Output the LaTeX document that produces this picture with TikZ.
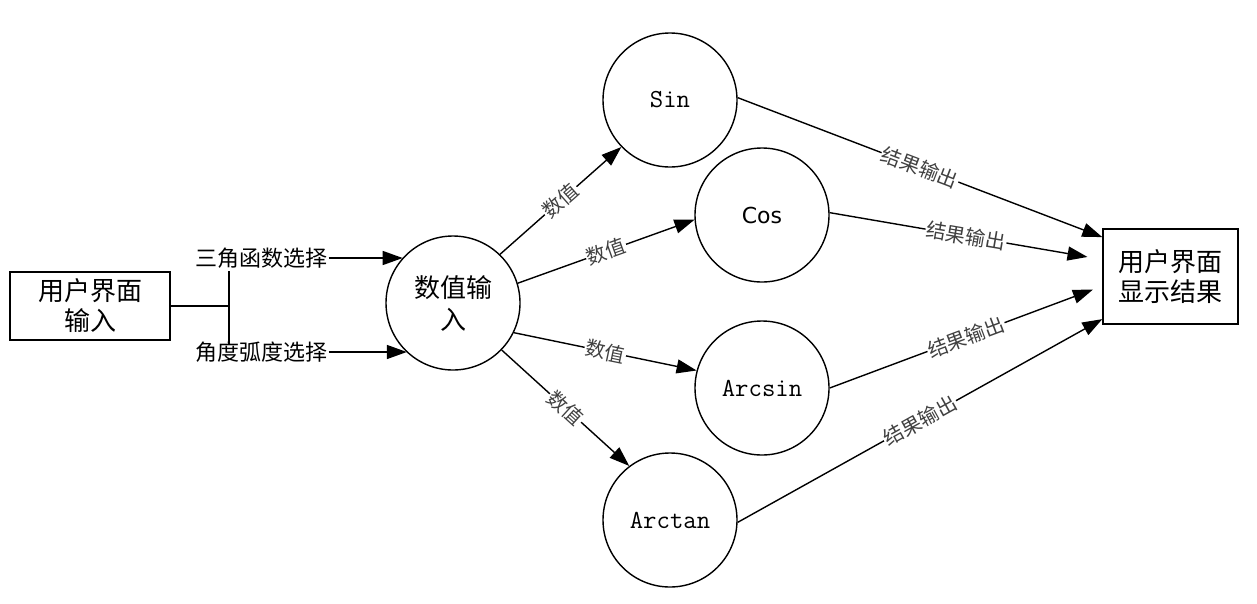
\documentclass[tikz,border=0pt]{standalone}
\usepackage{fontspec}
\newfontfamily\cjk{Noto Sans CJK SC}
\newfontfamily\dvs{DejaVu Sans}
\usetikzlibrary{arrows.meta}
\begin{document}
\begin{tikzpicture}[x=1pt,y=-1pt,
  ln/.style={line width=1.4pt, -{Triangle[length=20pt,width=14pt]}},
  plain/.style={line width=1.4pt},
  box/.style={draw, line width=1.4pt, align=center, font=\cjk\fontsize{26}{30}\selectfont, inner sep=0pt},
  proc/.style={draw, circle, line width=1.4pt, minimum size=134pt, inner sep=0pt, align=center},
  monotxt/.style={font=\ttfamily\fontsize{26}{28}\selectfont},
  elab/.style={font=\cjk\fontsize{20}{22}\selectfont, text=black!75, fill=white, inner sep=1pt, sloped, pos=0.5},
  sel/.style={font=\cjk\fontsize{22}{24}\selectfont, inner sep=1pt}]
\fill[white] (0,0) rectangle (1257,603);
\useasboundingbox (0,0) rectangle (1257,603);

\node[box, minimum width=160pt, minimum height=68pt] (ui) at (90,306) {用户界面\\输入};
\node[box, minimum width=135pt, minimum height=95pt] (out) at (1170.5,276.5) {用户界面\\显示结果};
\node[proc, font=\cjk\fontsize{26}{32}\selectfont] (num) at (453,303) {数值输\\入};
\node[proc, monotxt] (sin) at (670,100) {Sin};
\node[proc, font=\dvs\fontsize{22}{24}\selectfont] (cos) at (762,215) {Cos};
\node[proc, monotxt] (asin) at (762,388) {Arcsin};
\node[proc, monotxt] (atan) at (670,520) {Arctan};

\node[sel] (s1) at (261.5,258) {三角函数选择};
\node[sel] (s2) at (261.5,352) {角度弧度选择};
\coordinate (jt) at (229,271);
\coordinate (jb) at (229,345);

\draw[plain] (jt) -- (jb);
\draw[plain] (ui.east) -- (ui.east -| jt);
\draw[ln] (s1.east) -- (s1.east -| num.138);
\draw[ln] (s2.east) -- (s2.east -| num.227);

\draw[ln] (num.46) -- node[elab]{数值} (sin.224);
\draw[ln] (num.17) -- node[elab]{数值} (cos.184);
\draw[ln] (num.334) -- node[elab]{数值} (asin.165);
\draw[ln] (num.316) -- node[elab]{数值} (atan.127);

\draw[ln] (sin.2) -- node[elab]{结果输出} (out.150);
\draw[ln, shorten >=15pt] (cos.2) -- node[elab]{结果输出} (out.166);
\draw[ln, shorten >=10pt] (asin.0) -- node[elab]{结果输出} (out.188);
\draw[ln] (atan.358) -- node[elab]{结果输出} (out.212);
\end{tikzpicture}
\end{document}
